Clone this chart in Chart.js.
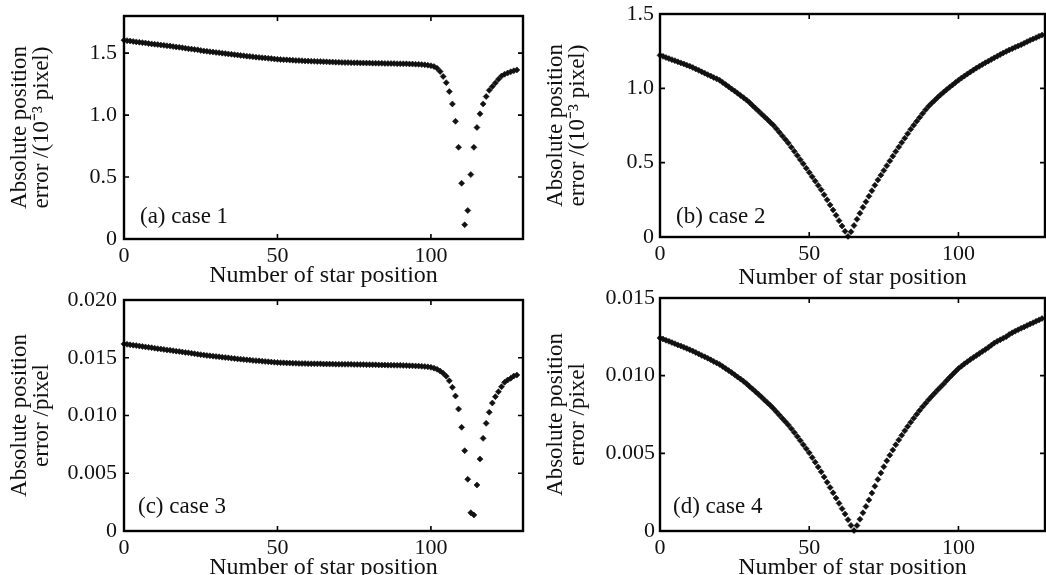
<!DOCTYPE html>
<html>
<head>
<meta charset="utf-8">
<script src="https://cdn.jsdelivr.net/npm/chart.js@4.4.1/dist/chart.umd.min.js"></script>
<style>
  html, body { margin: 0; padding: 0; background: #fff; }
  body { width: 1046px; height: 575px; position: relative; overflow: hidden; }
  canvas { position: absolute; }
</style>
</head>
<body>
<canvas id="ca" width="530" height="288" style="left:0;top:0"></canvas>
<canvas id="cb" width="516" height="290" style="left:530px;top:0"></canvas>
<canvas id="cc" width="530" height="295" style="left:0;top:285px"></canvas>
<canvas id="cd" width="516" height="295" style="left:530px;top:285px"></canvas>
<script>
// ---------- data ----------
const starIndex = Array.from({length: 129}, (_, i) => i);

const caseA = [
  1.605,1.601,1.598,1.594,1.591,1.588,1.585,1.582,1.578,1.575,
  1.572,1.569,1.566,1.563,1.560,1.557,1.553,1.550,1.547,1.544,
  1.540,1.536,1.533,1.530,1.527,1.522,1.518,1.515,1.512,1.509,
  1.506,1.503,1.500,1.497,1.494,1.491,1.488,1.485,1.482,1.479,
  1.476,1.474,1.471,1.468,1.466,1.463,1.461,1.458,1.456,1.453,
  1.451,1.449,1.447,1.446,1.444,1.443,1.441,1.440,1.439,1.437,
  1.436,1.435,1.434,1.433,1.432,1.431,1.430,1.429,1.428,1.427,
  1.426,1.425,1.424,1.424,1.423,1.422,1.422,1.421,1.421,1.420,
  1.420,1.419,1.419,1.418,1.418,1.417,1.417,1.416,1.416,1.415,
  1.415,1.414,1.414,1.413,1.412,1.411,1.410,1.408,1.406,1.403,
  1.399,1.392,1.378,1.352,1.312,1.262,1.190,1.090,0.950,0.740,
  0.450,0.115,0.230,0.520,0.740,0.900,1.010,1.090,1.150,1.200,
  1.230,1.260,1.290,1.315,1.330,1.340,1.350,1.358,1.365
];

const caseB = [
  1.222,1.215,1.207,1.200,1.193,1.186,1.178,1.171,1.164,1.156,
  1.149,1.140,1.130,1.121,1.111,1.102,1.092,1.083,1.073,1.064,
  1.054,1.040,1.025,1.011,0.996,0.982,0.967,0.952,0.937,0.921,
  0.904,0.885,0.866,0.847,0.828,0.809,0.790,0.771,0.752,0.728,
  0.704,0.680,0.656,0.632,0.604,0.576,0.548,0.520,0.492,0.463,
  0.434,0.405,0.376,0.347,0.318,0.284,0.250,0.216,0.182,0.146,
  0.110,0.074,0.038,0.004,0.035,0.077,0.119,0.160,0.200,0.237,
  0.274,0.311,0.348,0.384,0.416,0.448,0.480,0.512,0.544,0.575,
  0.605,0.635,0.665,0.695,0.725,0.752,0.778,0.804,0.830,0.856,
  0.880,0.900,0.919,0.938,0.956,0.974,0.991,1.007,1.023,1.039,
  1.055,1.069,1.083,1.097,1.110,1.123,1.136,1.148,1.160,1.172,
  1.183,1.194,1.205,1.216,1.227,1.238,1.248,1.258,1.267,1.276,
  1.285,1.294,1.303,1.314,1.323,1.332,1.341,1.350,1.358
];

const caseC = [
  0.01620,0.01616,0.01612,0.01609,0.01605,0.01601,0.01598,0.01594,0.01590,0.01587,
  0.01583,0.01579,0.01576,0.01572,0.01568,0.01565,0.01561,0.01557,0.01554,0.01550,
  0.01546,0.01543,0.01539,0.01535,0.01531,0.01527,0.01523,0.01520,0.01517,0.01514,
  0.01511,0.01508,0.01505,0.01502,0.01499,0.01496,0.01493,0.01490,0.01488,0.01485,
  0.01482,0.01480,0.01477,0.01475,0.01473,0.01470,0.01468,0.01466,0.01463,0.01461,
  0.01459,0.01457,0.01456,0.01455,0.01454,0.01453,0.01452,0.01451,0.01450,0.01450,
  0.01449,0.01448,0.01448,0.01447,0.01447,0.01446,0.01446,0.01445,0.01445,0.01444,
  0.01444,0.01444,0.01443,0.01443,0.01443,0.01442,0.01442,0.01441,0.01441,0.01440,
  0.01440,0.01439,0.01439,0.01438,0.01437,0.01437,0.01436,0.01436,0.01435,0.01434,
  0.01434,0.01433,0.01432,0.01431,0.01430,0.01429,0.01428,0.01426,0.01424,0.01421,
  0.01417,0.01410,0.01400,0.01385,0.01365,0.01340,0.01300,0.01244,0.01169,0.01056,
  0.00898,0.00695,0.00448,0.00158,0.00139,0.00398,0.00623,0.00802,0.00932,0.01028,
  0.01108,0.01163,0.01206,0.01249,0.01287,0.01307,0.01322,0.01342,0.01350
];

const caseD = [
  0.01243,0.01236,0.01228,0.01221,0.01213,0.01206,0.01198,0.01191,0.01183,0.01175,
  0.01167,0.01158,0.01149,0.01140,0.01130,0.01121,0.01112,0.01102,0.01092,0.01082,
  0.01072,0.01059,0.01046,0.01033,0.01020,0.01006,0.00992,0.00978,0.00964,0.00948,
  0.00931,0.00914,0.00897,0.00880,0.00862,0.00844,0.00826,0.00808,0.00788,0.00767,
  0.00746,0.00725,0.00704,0.00683,0.00659,0.00634,0.00608,0.00582,0.00556,0.00530,
  0.00503,0.00473,0.00443,0.00412,0.00381,0.00348,0.00314,0.00280,0.00246,0.00212,
  0.00178,0.00144,0.00110,0.00073,0.00036,0.00003,0.00035,0.00076,0.00117,0.00158,
  0.00200,0.00244,0.00288,0.00332,0.00374,0.00414,0.00452,0.00488,0.00522,0.00555,
  0.00586,0.00616,0.00645,0.00673,0.00700,0.00726,0.00751,0.00776,0.00800,0.00823,
  0.00845,0.00866,0.00887,0.00907,0.00927,0.00946,0.00968,0.00988,0.01008,0.01027,
  0.01046,0.01061,0.01076,0.01090,0.01104,0.01117,0.01130,0.01143,0.01156,0.01168,
  0.01182,0.01196,0.01210,0.01221,0.01231,0.01241,0.01251,0.01265,0.01276,0.01286,
  0.01296,0.01305,0.01314,0.01323,0.01332,0.01341,0.01350,0.01359,0.01368
];

const xTicks = [0, 50, 100];
const xTickLabels = ['0', '50', '100'];
const yTicksAB = [0, 0.5, 1.0, 1.5];
const yTickLabelsAB = ['0', '0.5', '1.0', '1.5'];
const yTicksC = [0, 0.005, 0.010, 0.015, 0.020];
const yTickLabelsC = ['0', '0.005', '0.010', '0.015', '0.020'];
const yTicksD = [0, 0.005, 0.010, 0.015];
const yTickLabelsD = ['0', '0.005', '0.010', '0.015'];

const panelLabels = ['(a) case 1', '(b) case 2', '(c) case 3', '(d) case 4'];
const xTitle = 'Number of star position';
const yTitleScaled = ['Absolute position', 'error /(10\u207B\u00B3 pixel)'];
const yTitlePixel = ['Absolute position', 'error /pixel'];

// ---------- drawing ----------
const FONT = '"Liberation Serif", "Times New Roman", serif';

const framePlugin = {
  id: 'frame',
  afterDatasetsDraw(chart, args, opts) {
    const {ctx, chartArea: a, scales: {x, y}} = chart;
    ctx.save();
    ctx.strokeStyle = '#000';
    ctx.lineWidth = 1.6;
    const tl = 5;
    ctx.beginPath();
    x.ticks.forEach(t => {
      const px = x.getPixelForValue(t.value);
      ctx.moveTo(px, a.bottom); ctx.lineTo(px, a.bottom - tl);
      ctx.moveTo(px, a.top); ctx.lineTo(px, a.top + tl);
    });
    y.ticks.forEach(t => {
      const py = y.getPixelForValue(t.value);
      ctx.moveTo(a.left, py); ctx.lineTo(a.left + tl, py);
      ctx.moveTo(a.right, py); ctx.lineTo(a.right - tl, py);
    });
    ctx.stroke();
    ctx.lineWidth = 2.4;
    ctx.strokeRect(a.left, a.top, a.right - a.left, a.bottom - a.top);
    ctx.fillStyle = '#111';
    ctx.font = '23px ' + FONT;
    ctx.textBaseline = 'middle';
    ctx.textAlign = 'left';
    ctx.fillText(opts.label, a.left + opts.dx, a.bottom - opts.dy);
    ctx.restore();
  }
};

function makeChart(id, values, cfg) {
  const yTicks = cfg.yTicks, yLabels = cfg.yLabels;
  return new Chart(document.getElementById(id), {
    type: 'scatter',
    data: {
      datasets: [{
        data: starIndex.map((x, i) => ({x: x, y: values[i]})),
        backgroundColor: '#111',
        borderColor: '#111',
        borderWidth: 0.6,
        pointStyle: 'rectRot',
        pointRadius: 3,
        clip: false
      }]
    },
    options: {
      responsive: false,
      animation: false,
      events: [],
      layout: { autoPadding: false, padding: { top: cfg.padTop, right: cfg.padRight, left: 0, bottom: 0 } },
      plugins: {
        legend: { display: false },
        tooltip: { enabled: false },
        frame: { label: cfg.label, dx: cfg.labelDx, dy: cfg.labelDy }
      },
      scales: {
        x: {
          type: 'linear',
          min: 0,
          max: cfg.xMax,
          grid: { display: false, drawTicks: false },
          border: { display: false },
          afterBuildTicks: axis => { axis.ticks = xTicks.map(v => ({value: v})); },
          afterFit: axis => { axis.height = cfg.xHeight; axis.paddingLeft = 0; axis.paddingRight = 0; },
          ticks: {
            color: '#111',
            padding: 6,
            maxRotation: 0,
            font: { family: FONT, size: 22, lineHeight: 1 },
            callback: (v, i) => xTickLabels[i]
          },
          title: {
            display: true,
            text: xTitle,
            color: '#111',
            padding: 0,
            font: { family: FONT, size: 24, lineHeight: 1 }
          }
        },
        y: {
          type: 'linear',
          min: 0,
          max: cfg.yMax,
          grid: { display: false, drawTicks: false },
          border: { display: false },
          afterBuildTicks: axis => { axis.ticks = yTicks.map(v => ({value: v})); },
          afterFit: axis => { axis.width = cfg.yWidth; axis.paddingTop = 0; axis.paddingBottom = 0; },
          ticks: {
            color: '#111',
            padding: cfg.yTickPad,
            font: { family: FONT, size: 22, lineHeight: 1 },
            callback: (v, i) => yLabels[i]
          },
          title: {
            display: true,
            text: cfg.yTitle,
            color: '#111',
            padding: { top: cfg.yTitlePad, bottom: 0 },
            font: { family: FONT, size: 23, lineHeight: 0.96 }
          }
        }
      }
    },
    plugins: [framePlugin]
  });
}

makeChart('ca', caseA, {
  xMax: 130, yMax: 1.8, yTicks: yTicksAB, yLabels: yTickLabelsAB,
  padTop: 16, padRight: 7, yWidth: 124, xHeight: 49, yTickPad: 7,
  yTitle: yTitleScaled, yTitlePad: 9, label: panelLabels[0], labelDx: 16, labelDy: 22
});
makeChart('cb', caseB, {
  xMax: 129, yMax: 1.5, yTicks: yTicksAB, yLabels: yTickLabelsAB,
  padTop: 14, padRight: 1, yWidth: 130, xHeight: 53, yTickPad: 6,
  yTitle: yTitleScaled, yTitlePad: 15, label: panelLabels[1], labelDx: 16, labelDy: 20
});
makeChart('cc', caseC, {
  xMax: 130, yMax: 0.020, yTicks: yTicksC, yLabels: yTickLabelsC,
  padTop: 15, padRight: 7, yWidth: 124, xHeight: 49, yTickPad: 7,
  yTitle: yTitlePixel, yTitlePad: 9, label: panelLabels[2], labelDx: 14, labelDy: 24
});
makeChart('cd', caseD, {
  xMax: 129, yMax: 0.015, yTicks: yTicksD, yLabels: yTickLabelsD,
  padTop: 13, padRight: 1, yWidth: 130, xHeight: 49, yTickPad: 5,
  yTitle: yTitlePixel, yTitlePad: 15, label: panelLabels[3], labelDx: 13, labelDy: 24
});
</script>
</body>
</html>
